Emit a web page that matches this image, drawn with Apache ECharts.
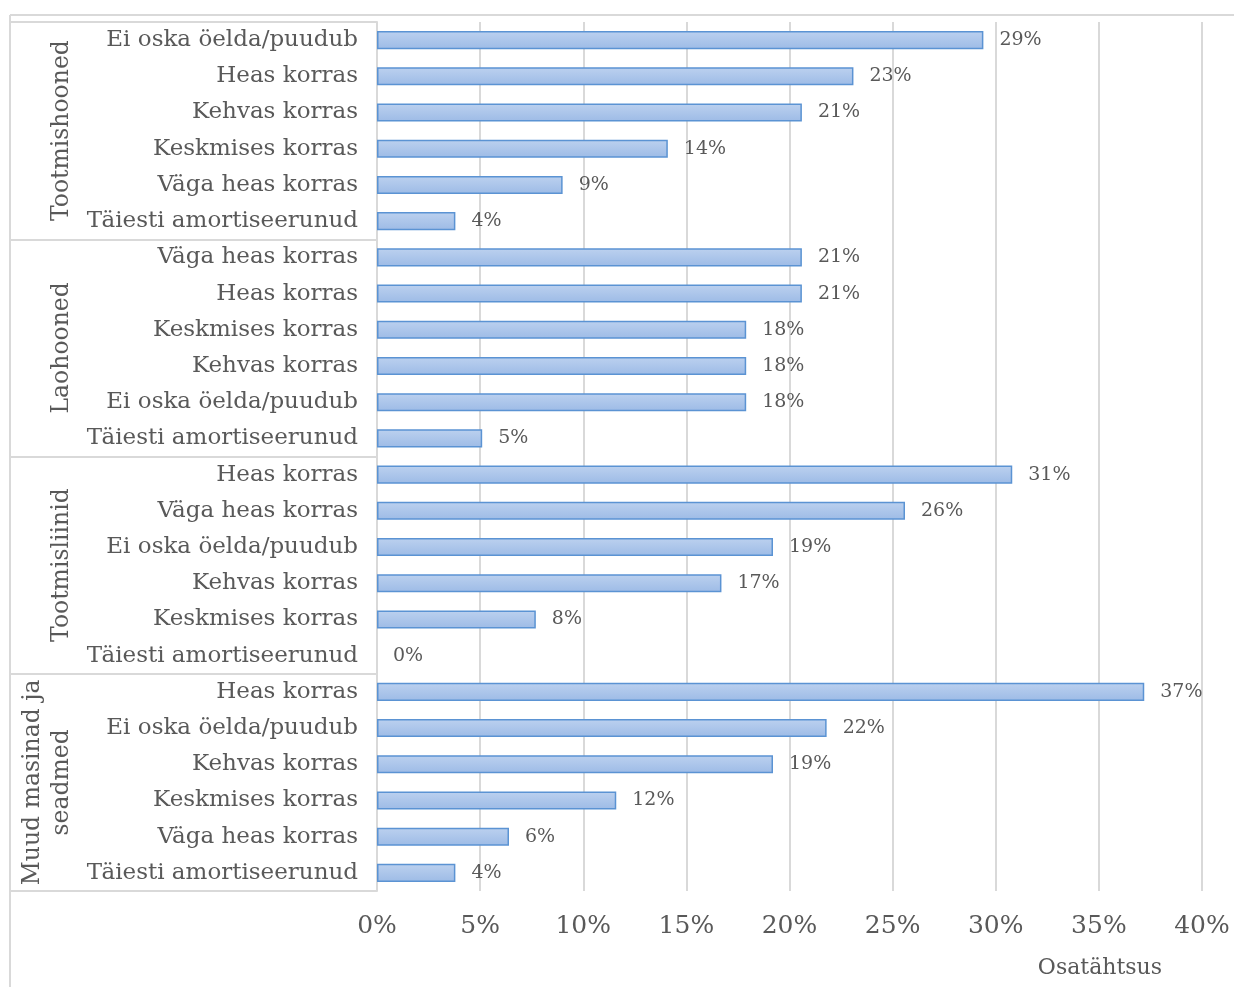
<!DOCTYPE html>
<html>
<head>
<meta charset="utf-8">
<script src="https://cdn.jsdelivr.net/npm/echarts@6/dist/echarts.min.js"></script>
<style>
  html, body { margin: 0; padding: 0; background: #fff; }
  #chart { width: 1234px; height: 987px; }
</style>
</head>
<body>
<div id="chart"></div>
<script>
// rühmad (vasak veerg)
var groupNames = ['Tootmishooned', 'Laohooned', 'Tootmisliinid', 'Muud masinad ja\nseadmed'];

// iga rühma kategooriad ja väärtused (%)
var tootmishoonedLabels = ['Ei oska öelda/puudub', 'Heas korras', 'Kehvas korras', 'Keskmises korras', 'Väga heas korras', 'Täiesti amortiseerunud'];
var tootmishoonedValues = [29.4, 23.1, 20.6, 14.1, 9.0, 3.8];

var laohoonedLabels = ['Väga heas korras', 'Heas korras', 'Keskmises korras', 'Kehvas korras', 'Ei oska öelda/puudub', 'Täiesti amortiseerunud'];
var laohoonedValues = [20.6, 20.6, 17.9, 17.9, 17.9, 5.1];

var tootmisliinidLabels = ['Heas korras', 'Väga heas korras', 'Ei oska öelda/puudub', 'Kehvas korras', 'Keskmises korras', 'Täiesti amortiseerunud'];
var tootmisliinidValues = [30.8, 25.6, 19.2, 16.7, 7.7, 0];

var muudLabels = ['Heas korras', 'Ei oska öelda/puudub', 'Kehvas korras', 'Keskmises korras', 'Väga heas korras', 'Täiesti amortiseerunud'];
var muudValues = [37.2, 21.8, 19.2, 11.6, 6.4, 3.8];

var xTicks = { min: 0, max: 40, interval: 5 };
var xName = 'Osatähtsus';

var allLabels = tootmishoonedLabels.concat(laohoonedLabels, tootmisliinidLabels, muudLabels);
var allValues = tootmishoonedValues.concat(laohoonedValues, tootmisliinidValues, muudValues);

var FONT = 'DejaVu Serif';
var TXT = '#595959';
var GRID = '#d9d9d9';

var chart = echarts.init(document.getElementById('chart'));

// nullväärtusel pole tulpa ega äärist näha
var barData = allValues.map(function (v) {
  return v === 0 ? { value: v, itemStyle: { borderWidth: 0 } } : v;
});

var option = {
  animation: false,
  textStyle: { fontFamily: FONT },
  grid: { left: 377, right: 32, top: 22, bottom: 96, containLabel: false },
  // raam ümber joonise
  graphic: [
    { type: 'line', shape: { x1: 10, y1: 15, x2: 1234, y2: 15 }, style: { stroke: GRID, lineWidth: 2 } },
    { type: 'line', shape: { x1: 10, y1: 15, x2: 10, y2: 987 }, style: { stroke: GRID, lineWidth: 2 } }
  ],
  xAxis: {
    type: 'value',
    min: xTicks.min,
    max: xTicks.max,
    interval: xTicks.interval,
    axisLine: { show: false },
    axisTick: { show: false },
    splitLine: { show: true, lineStyle: { color: GRID, width: 2 } },
    axisLabel: {
      formatter: '{value}%',
      color: TXT,
      fontFamily: FONT,
      fontSize: 25,
      margin: 23
    },
    name: xName,
    nameLocation: 'end',
    nameGap: -40,
    nameTextStyle: {
      color: TXT,
      fontFamily: FONT,
      fontSize: 22,
      align: 'right',
      verticalAlign: 'top',
      padding: [66, 0, 0, 0]
    }
  },
  yAxis: [
    {
      type: 'category',
      data: allLabels,
      inverse: true,
      position: 'left',
      axisLine: { show: true, lineStyle: { color: GRID, width: 2 } },
      axisTick: { show: false },
      axisLabel: {
        color: TXT,
        fontFamily: FONT,
        fontSize: 23,
        margin: 19,
        interval: 0
      }
    },
    {
      type: 'category',
      data: groupNames,
      inverse: true,
      position: 'left',
      offset: 0,
      axisLine: { show: false },
      axisTick: { show: true, length: 367, lineStyle: { color: GRID, width: 2 } },
      axisLabel: {
        rotate: 90,
        color: TXT,
        fontFamily: FONT,
        fontSize: 23.5,
        lineHeight: 29,
        margin: 301,
        interval: 0
      }
    }
  ],
  series: [
    {
      type: 'bar',
      yAxisIndex: 0,
      data: barData,
      barCategoryGap: '50%',
      itemStyle: {
        color: new echarts.graphic.LinearGradient(0, 0, 0, 1, [
          { offset: 0, color: '#bcd1ef' },
          { offset: 1, color: '#9dbbe6' }
        ]),
        borderColor: '#5b93d3',
        borderWidth: 1.5
      },
      label: {
        show: true,
        position: 'right',
        distance: 16,
        color: TXT,
        fontFamily: FONT,
        fontSize: 19,
        formatter: function (p) { return Math.round(p.value) + '%'; }
      }
    }
  ]
};

chart.setOption(option);
</script>
</body>
</html>
